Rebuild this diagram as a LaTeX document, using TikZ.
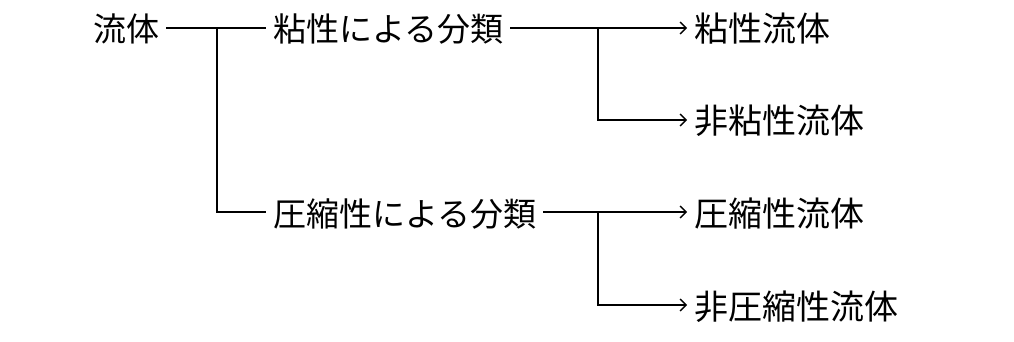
\documentclass[tikz,border=0pt]{standalone}
\usepackage{fontspec}
\setmainfont{Noto Sans CJK JP}
\usetikzlibrary{arrows.meta, positioning}

\begin{document}
\begin{tikzpicture}[
    x=1pt, y=-1pt,
    >={Straight Barb[length=6pt, width=12pt]},
    lbl/.style={
        inner ysep=0pt, inner xsep=7pt, anchor=west,
        text height=32pt, text depth=4pt,
        font=\fontsize{33}{36}\selectfont, text=black
    },
    reslbl/.style={lbl, font=\fontsize{34}{36}\selectfont},
    linkline/.style={line width=1.3pt, black},
    arrline/.style={->, line width=1.3pt, black},
]
\useasboundingbox (0,0) rectangle (1014,342);

% === Root ===
\node[lbl] (fluid) at (86,28) {流体};

% === Classifications ===
\node[lbl] (visc) at (266,28) {粘性による分類};
\node[lbl] (comp) at (266,212) {圧縮性による分類};

% === Results ===
\node[reslbl] (viscf) at (687,28) {粘性流体};
\node[reslbl] (inviscf) at (687,120) {非粘性流体};
\node[reslbl] (compf) at (687,212) {圧縮性流体};
\node[reslbl] (incompf) at (687,305) {非圧縮性流体};

% branch points
\coordinate (b1) at (217,28);
\coordinate (b2) at (598,28);
\coordinate (b3) at (598,212);

% === Connectors ===
\draw[linkline] (fluid.east) -- (visc.west);
\draw[linkline] (b1) |- (comp.west);
\draw[arrline] (visc.east) -- (viscf.west);
\draw[arrline] (b2) |- (inviscf.west);
\draw[arrline] (comp.east) -- (compf.west);
\draw[arrline] (b3) |- (incompf.west);

\end{tikzpicture}
\end{document}
